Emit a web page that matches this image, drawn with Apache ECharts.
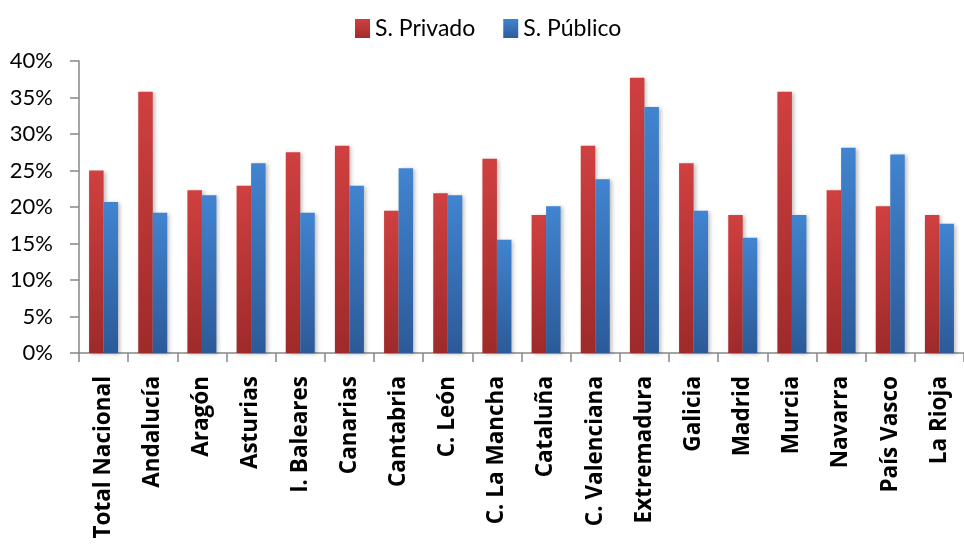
<!DOCTYPE html>
<html>
<head>
<meta charset="utf-8">
<script src="https://cdn.jsdelivr.net/npm/echarts@6/dist/echarts.min.js"></script>
<style>html,body{margin:0;padding:0;background:#fff}#c{width:964px;height:549px}</style>
</head>
<body>
<div id="c"></div>
<script>
const categories = ["Total Nacional","Andalucía","Aragón","Asturias","I. Baleares","Canarias","Cantabria","C. León","C. La Mancha","Cataluña","C. Valenciana","Extremadura","Galicia","Madrid","Murcia","Navarra","País Vasco","La Rioja"];
const privado = [25.0,35.8,22.3,22.9,27.5,28.4,19.5,21.9,26.6,18.9,28.4,37.7,26.0,18.9,35.8,22.3,20.1,18.9];
const publico = [20.7,19.2,21.6,26.0,19.2,22.9,25.3,21.6,15.5,20.1,23.8,33.7,19.5,15.8,18.9,28.1,27.2,17.7];
const seriesNames = ["S. Privado","S. Público"];

const font = "Lato, 'Open Sans', sans-serif";
const boldFont = "'Open Sans', sans-serif";
function grad(top, bottom){
  return new echarts.graphic.LinearGradient(0,0,0,1,[{offset:0,color:top},{offset:1,color:bottom}]);
}
const chart = echarts.init(document.getElementById('c'));
chart.setOption({
  animation:false,
  backgroundColor:'#fff',
  legend:{
    top:12,left:350,
    itemWidth:15,itemHeight:19,itemGap:28,
    textStyle:{fontFamily:font,fontSize:23,color:'#000'},
    data:[
      {name:seriesNames[0],icon:'rect',itemStyle:{color:grad('#d04040','#a22c2c')}},
      {name:seriesNames[1],icon:'rect',itemStyle:{color:grad('#4184d0','#2d5d9c')}}
    ]
  },
  grid:{left:79,top:61,bottom:196,width:893,containLabel:false},
  xAxis:{
    type:'category',data:categories,
    axisLine:{lineStyle:{color:'#868686',width:1.5}},
    axisTick:{show:true,length:9,alignWithLabel:false,lineStyle:{color:'#868686',width:1.5}},
    axisLabel:{rotate:90,interval:0,margin:23,fontFamily:boldFont,fontWeight:'bold',fontSize:22.5,color:'#000'}
  },
  yAxis:{
    type:'value',min:0,max:40,interval:5,
    axisLine:{show:true,lineStyle:{color:'#868686',width:1.5}},
    axisTick:{show:true,length:9,lineStyle:{color:'#868686',width:1.5}},
    splitLine:{show:false},
    axisLabel:{formatter:'{value}%',margin:26,fontFamily:font,fontSize:22,color:'#000'}
  },
  series:[
    {name:seriesNames[0],type:'bar',data:privado,barGap:'0%',barCategoryGap:'41%',
     itemStyle:{color:grad('#d04040','#9e2a2a'),shadowColor:'rgba(0,0,0,0.25)',shadowBlur:4,shadowOffsetX:2,shadowOffsetY:1}},
    {name:seriesNames[1],type:'bar',data:publico,barGap:'0%',barCategoryGap:'41%',
     itemStyle:{color:grad('#4184d0','#2c5a98'),shadowColor:'rgba(0,0,0,0.25)',shadowBlur:4,shadowOffsetX:2,shadowOffsetY:1}}
  ]
});
</script>
</body>
</html>
